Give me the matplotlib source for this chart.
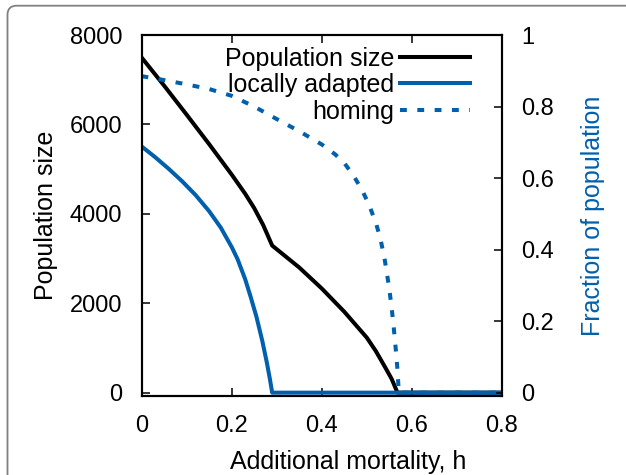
import matplotlib
matplotlib.use("Agg")
import matplotlib.pyplot as plt
from matplotlib.patches import FancyBboxPatch
from matplotlib.transforms import IdentityTransform

plt.rcParams['font.family'] = ['Liberation Sans', 'DejaVu Sans']

# values
h_pop = [0, 0.05, 0.10, 0.15, 0.20, 0.23, 0.25, 0.27, 0.29, 0.35, 0.40, 0.45,
         0.50, 0.52, 0.54, 0.555, 0.568, 0.8]
pop_size = [7500, 6870, 6220, 5560, 4880, 4450, 4130, 3750, 3290, 2800, 2330,
            1810, 1230, 930, 580, 310, 0, 0]

h_local = [0, 0.03, 0.06, 0.09, 0.12, 0.15, 0.176, 0.20, 0.213, 0.23, 0.242,
           0.255, 0.268, 0.278, 0.285, 0.29, 0.8]
pop_local = [5510, 5270, 5010, 4730, 4420, 4060, 3690, 3260, 2990, 2540, 2150,
             1700, 1160, 680, 300, 0, 0]

h_homing = [0, 0.05, 0.10, 0.15, 0.20, 0.25, 0.30, 0.35, 0.40, 0.43, 0.45,
            0.47, 0.49, 0.505, 0.52, 0.53, 0.54, 0.55, 0.558, 0.564, 0.568,
            0.571, 0.8]
frac_homing = [0.885, 0.874, 0.862, 0.849, 0.830, 0.800, 0.765, 0.731, 0.694,
               0.666, 0.642, 0.608, 0.565, 0.525, 0.475, 0.432, 0.370, 0.290,
               0.205, 0.125, 0.065, 0.0, 0.0]

x_ticks = [0, 0.2, 0.4, 0.6, 0.8]
x_tick_labels = ['0', '0.2', '0.4', '0.6', '0.8']
y_ticks = [0, 2000, 4000, 6000, 8000]
y_tick_labels = ['0', '2000', '4000', '6000', '8000']
y2_ticks = [0, 0.2, 0.4, 0.6, 0.8, 1]
y2_tick_labels = ['0', '0.2', '0.4', '0.6', '0.8', '1']

blue = '#0060ad'
lw = 2.9

fig = plt.figure(figsize=(6.26, 4.75), dpi=100)
ax = fig.add_axes([141.5 / 626, 1 - 396 / 475, 360.5 / 626, 361 / 475])
ax2 = ax.twinx()

l1, = ax.plot(h_pop, pop_size, color='black', lw=lw, label='Population size')
l2, = ax.plot(h_local, pop_local, color=blue, lw=lw, label='locally adapted')
l3, = ax2.plot(h_homing, frac_homing, color=blue, lw=lw, ls=(0, (1.7, 2.6)),
               dash_capstyle='butt', label='homing')

ax.set_xlim(0, 0.8)
ax.set_ylim(-75, 8000)
ax2.set_ylim(-75 / 8000, 1)

ax.set_xticks(x_ticks)
ax.set_xticklabels(x_tick_labels)
ax.set_yticks(y_ticks)
ax.set_yticklabels(y_tick_labels)
ax2.set_yticks(y2_ticks)
ax2.set_yticklabels(y2_tick_labels)

ax.tick_params(axis='x', direction='in', top=True, length=6, width=1.1,
               pad=14, labelsize=17)
ax.tick_params(axis='y', direction='in', left=True, right=False, length=6,
               width=1.1, pad=14, labelsize=17)
ax2.tick_params(axis='y', direction='in', right=True, length=6, width=1.1,
                pad=14, labelsize=17)
for a in (ax, ax2):
    for s in a.spines.values():
        s.set_linewidth(1.5)

ax.set_xlabel('Additional mortality, h', fontsize=18)
ax.xaxis.set_label_coords(0.573, -0.1496)
ax.set_ylabel('Population size', fontsize=18, va='center')
ax.yaxis.set_label_coords(-0.265, 0.5)
ax2.set_ylabel('Fraction of population', fontsize=18, color=blue, va='center')
ax2.yaxis.set_label_coords(1.2516, 0.5)

ax2.legend(handles=[l1, l2, l3], loc='upper right', bbox_to_anchor=(0.911, 0.968),
           frameon=False, markerfirst=False, fontsize=18, handlelength=2.8,
           handletextpad=0.23, labelspacing=0.1, borderpad=0, borderaxespad=0)

# grey rounded frame around the figure
frame = FancyBboxPatch((7.5, -40), 700, 469.3 + 40,
                       boxstyle='round,pad=0,rounding_size=9',
                       transform=IdentityTransform(), fill=False,
                       edgecolor='#808080', lw=1.3)
fig.add_artist(frame)

fig.savefig('out.png', dpi=100)
